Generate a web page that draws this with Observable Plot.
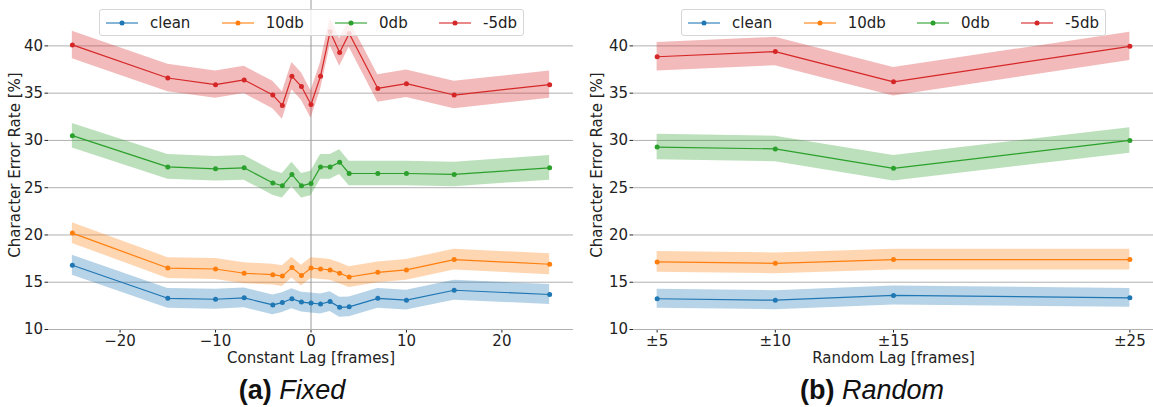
<!DOCTYPE html>
<html>
<head>
<meta charset="utf-8">
<script src="https://cdn.jsdelivr.net/npm/d3@7"></script>
<script src="https://cdn.jsdelivr.net/npm/@observablehq/plot@0.6"></script>
<style>
  html, body { margin: 0; padding: 0; background: #fff; }
  #fig { position: relative; width: 1153px; height: 407px; overflow: hidden; }
  .panel { position: absolute; top: 0; }
  .legend {
    position: absolute; top: 9px; height: 27px; box-sizing: border-box;
    border: 1px solid #d6d6d6; border-radius: 3px; background: rgba(255,255,255,0.8);
    display: flex; align-items: center; justify-content: space-between; padding: 0 6px;
    font-family: "DejaVu Sans", sans-serif; font-size: 15px; color: #222;
  }
  .legend .item { display: flex; align-items: center; }
  .legend svg { margin-right: 12px; }
  .caption {
    position: absolute; top: 377px; transform: translateX(-50%);
    font-family: "Liberation Sans", Arial, sans-serif; font-size: 27px; line-height: 1; color: #111;
    white-space: nowrap;
  }
  .caption b { font-weight: bold; }
  .caption i { font-style: italic; }
</style>
</head>
<body>
<div id="fig"></div>
<script>
// Noise conditions and their colours
const seriesNames = ["clean", "10db", "0db", "-5db"];
const seriesColors = ["#1f77b4", "#ff7f0e", "#2ca02c", "#d62728"];

// (a) Fixed: constant lag in frames vs. character error rate [%]
const fixedLag = [-25, -15, -10, -7, -4, -3, -2, -1, 0, 1, 2, 3, 4, 7, 10, 15, 25];
const fixedClean = [16.8, 13.3, 13.2, 13.35, 12.6, 12.85, 13.25, 12.9, 12.8, 12.7, 12.95, 12.35, 12.4, 13.3, 13.1, 14.15, 13.7];
const fixed10db  = [20.2, 16.5, 16.4, 15.95, 15.8, 15.65, 16.55, 15.7, 16.5, 16.4, 16.3, 15.95, 15.55, 16.05, 16.3, 17.4, 16.9];
const fixed0db   = [30.5, 27.2, 27.0, 27.1, 25.5, 25.2, 26.4, 25.2, 25.45, 27.2, 27.2, 27.7, 26.5, 26.5, 26.5, 26.4, 27.1];
const fixedM5db  = [40.1, 36.6, 35.9, 36.4, 34.8, 33.7, 36.8, 35.7, 33.8, 36.8, 41.5, 39.3, 41.3, 35.5, 36.0, 34.8, 35.9];
const fixedSpread = [1.05, 1.1, 1.3, 1.45]; // half-width of the shaded band per condition
const fixedTicks = [-20, -10, 0, 10, 20];

// (b) Random: random lag range in frames vs. character error rate [%]
const randomLag = [5, 10, 15, 25];
const randomTickLabels = ["±5", "±10", "±15", "±25"];
const randomClean = [13.25, 13.1, 13.6, 13.35];
const random10db  = [17.15, 17.0, 17.4, 17.4];
const random0db   = [29.3, 29.1, 27.05, 30.0];
const randomM5db  = [38.85, 39.4, 36.2, 39.95];
const randomSpread = [1.0, 1.1, 1.35, 1.5];

const cerTicks = [10, 15, 20, 25, 30, 35, 40];

function tidy(lags, seriesValues, spreads) {
  const rows = [];
  seriesValues.forEach((vals, s) => {
    vals.forEach((v, i) => rows.push({
      series: seriesNames[s], lag: lags[i], cer: v, lo: v - spreads[s], hi: v + spreads[s]
    }));
  });
  return rows;
}

const fixedRows = tidy(fixedLag, [fixedClean, fixed10db, fixed0db, fixedM5db], fixedSpread);
const randomRows = tidy(randomLag, [randomClean, random10db, random0db, randomM5db], randomSpread);

const H = 370, MB = 41;

function panel({rows, width, marginLeft, marginRight, xDomain, xTicks, xFormat, xLabel, zeroRule, yLabelDx}) {
  return Plot.plot({
    width, height: H,
    marginTop: 0, marginBottom: MB, marginLeft, marginRight,
    style: {fontFamily: "DejaVu Sans, sans-serif", fontSize: "15px", color: "#222", background: "transparent", overflow: "visible"},
    x: {domain: xDomain, ticks: xTicks, tickFormat: xFormat, tickSize: 3.5, tickPadding: 2, label: null},
    y: {domain: [10, 44.8], ticks: cerTicks, tickSize: 3.5, tickPadding: 2, label: null},
    color: {domain: seriesNames, range: seriesColors},
    marks: [
      Plot.ruleY(cerTicks, {stroke: "#b0b0b0", strokeWidth: 1}),
      zeroRule ? Plot.ruleX([0], {stroke: "#9a9a9a", strokeWidth: 1}) : null,
      Plot.areaY(rows, {x: "lag", y1: "lo", y2: "hi", z: "series", fill: "series", fillOpacity: 0.32}),
      Plot.line(rows, {x: "lag", y: "cer", z: "series", stroke: "series", strokeWidth: 1.2}),
      Plot.dot(rows, {x: "lag", y: "cer", fill: "series", r: 2.5}),
      Plot.text([xLabel], {text: d => d, frameAnchor: "bottom", lineAnchor: "middle", dy: 29, fontSize: 15, fill: "#222"}),
      Plot.text(["Character Error Rate [%]"], {text: d => d, frameAnchor: "left", textAnchor: "middle", lineAnchor: "middle", dx: yLabelDx, rotate: -90, fontSize: 15, fill: "#222"})
    ]
  });
}

function legend(left) {
  const div = document.createElement("div");
  div.className = "legend";
  div.style.left = left + "px";
  div.style.width = "425px";
  seriesNames.forEach((name, i) => {
    const item = document.createElement("div");
    item.className = "item";
    const ns = "http://www.w3.org/2000/svg";
    const svg = document.createElementNS(ns, "svg");
    svg.setAttribute("width", 32); svg.setAttribute("height", 10);
    const line = document.createElementNS(ns, "line");
    line.setAttribute("x1", 0); line.setAttribute("x2", 32);
    line.setAttribute("y1", 5); line.setAttribute("y2", 5);
    line.setAttribute("stroke", seriesColors[i]); line.setAttribute("stroke-width", 2);
    line.setAttribute("stroke-opacity", 0.55);
    const dot = document.createElementNS(ns, "circle");
    dot.setAttribute("cx", 16); dot.setAttribute("cy", 5); dot.setAttribute("r", 2.5);
    dot.setAttribute("fill", seriesColors[i]);
    svg.append(line, dot);
    const label = document.createElement("span");
    label.textContent = name;
    item.append(svg, label);
    div.append(item);
  });
  return div;
}

function caption(center, tag, title) {
  const div = document.createElement("div");
  div.className = "caption";
  div.style.left = center + "px";
  div.innerHTML = `<b>${tag}</b> <i>${title}</i>`;
  return div;
}

const fig = document.getElementById("fig");

const left = panel({
  rows: fixedRows, width: 580, marginLeft: 48, marginRight: 7,
  xDomain: [-27.5, 27.5], xTicks: fixedTicks, xFormat: d3.format("d"),
  xLabel: "Constant Lag [frames]", zeroRule: true, yLabelDx: -33
});
left.classList.add("panel");
left.style.left = "0px";

const right = panel({
  rows: randomRows, width: 573, marginLeft: 53, marginRight: 0,
  xDomain: [4, 26], xTicks: randomLag, xFormat: d => randomTickLabels[randomLag.indexOf(d)],
  xLabel: "Random Lag [frames]", zeroRule: false, yLabelDx: -36
});
right.classList.add("panel");
right.style.left = "580px";

fig.append(left, right, legend(99), legend(681), caption(292, "(a)", "Fixed"), caption(872, "(b)", "Random"));
</script>
</body>
</html>
